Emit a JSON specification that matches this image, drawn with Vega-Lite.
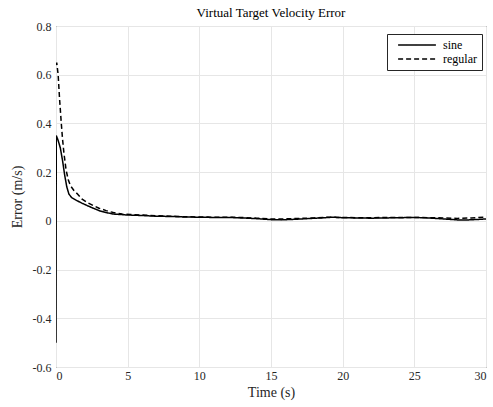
{
  "$schema": "https://vega.github.io/schema/vega-lite/v6.json",
  "width": 430,
  "height": 341,
  "padding": {"left": 10, "top": 7, "right": 6, "bottom": 5},
  "background": "white",
  "title": {"text": "Virtual Target Velocity Error", "font": "Liberation Serif", "fontSize": 13, "fontWeight": "normal", "color": "#000000", "offset": 0},
  "config": {
    "view": {"stroke": "#262626", "strokeWidth": 1},
    "axis": {"labelFont": "Liberation Serif", "titleFont": "Liberation Serif", "labelFontSize": 12, "titleFontSize": 14, "titleFontWeight": "normal", "labelColor": "#262626", "titleColor": "#262626", "gridColor": "#e6e6e6", "gridWidth": 1, "domain": false, "ticks": false}
  },
  "data": {"values": [
    {"t": 0, "e": -0.5, "s": "sine"},
    {"t": 0.02, "e": 0.35, "s": "sine"},
    {"t": 0.15, "e": 0.33, "s": "sine"},
    {"t": 0.3, "e": 0.30, "s": "sine"},
    {"t": 0.45, "e": 0.25, "s": "sine"},
    {"t": 0.6, "e": 0.19, "s": "sine"},
    {"t": 0.75, "e": 0.14, "s": "sine"},
    {"t": 0.9, "e": 0.11, "s": "sine"},
    {"t": 1.1, "e": 0.095, "s": "sine"},
    {"t": 1.4, "e": 0.085, "s": "sine"},
    {"t": 1.8, "e": 0.073, "s": "sine"},
    {"t": 2.2, "e": 0.062, "s": "sine"},
    {"t": 2.6, "e": 0.052, "s": "sine"},
    {"t": 3.0, "e": 0.042, "s": "sine"},
    {"t": 3.5, "e": 0.034, "s": "sine"},
    {"t": 4.0, "e": 0.028, "s": "sine"},
    {"t": 4.5, "e": 0.026, "s": "sine"},
    {"t": 5, "e": 0.024, "s": "sine"},
    {"t": 6, "e": 0.022, "s": "sine"},
    {"t": 7, "e": 0.019, "s": "sine"},
    {"t": 8, "e": 0.018, "s": "sine"},
    {"t": 9, "e": 0.016, "s": "sine"},
    {"t": 10, "e": 0.015, "s": "sine"},
    {"t": 11, "e": 0.014, "s": "sine"},
    {"t": 12, "e": 0.014, "s": "sine"},
    {"t": 13, "e": 0.012, "s": "sine"},
    {"t": 14, "e": 0.009, "s": "sine"},
    {"t": 15, "e": 0.005, "s": "sine"},
    {"t": 15.7, "e": 0.004, "s": "sine"},
    {"t": 16.5, "e": 0.006, "s": "sine"},
    {"t": 17.5, "e": 0.009, "s": "sine"},
    {"t": 18.5, "e": 0.012, "s": "sine"},
    {"t": 19.3, "e": 0.015, "s": "sine"},
    {"t": 20, "e": 0.013, "s": "sine"},
    {"t": 21, "e": 0.012, "s": "sine"},
    {"t": 22, "e": 0.011, "s": "sine"},
    {"t": 23, "e": 0.012, "s": "sine"},
    {"t": 24, "e": 0.013, "s": "sine"},
    {"t": 25, "e": 0.014, "s": "sine"},
    {"t": 26, "e": 0.012, "s": "sine"},
    {"t": 27, "e": 0.008, "s": "sine"},
    {"t": 28, "e": 0.004, "s": "sine"},
    {"t": 28.8, "e": 0.004, "s": "sine"},
    {"t": 29.5, "e": 0.006, "s": "sine"},
    {"t": 30, "e": 0.008, "s": "sine"},
    {"t": 0.02, "e": 0.64, "s": "regular"},
    {"t": 0.05, "e": 0.65, "s": "regular"},
    {"t": 0.15, "e": 0.6, "s": "regular"},
    {"t": 0.25, "e": 0.5, "s": "regular"},
    {"t": 0.37, "e": 0.4, "s": "regular"},
    {"t": 0.45, "e": 0.34, "s": "regular"},
    {"t": 0.55, "e": 0.28, "s": "regular"},
    {"t": 0.7, "e": 0.21, "s": "regular"},
    {"t": 0.85, "e": 0.17, "s": "regular"},
    {"t": 1.0, "e": 0.145, "s": "regular"},
    {"t": 1.25, "e": 0.125, "s": "regular"},
    {"t": 1.5, "e": 0.11, "s": "regular"},
    {"t": 1.8, "e": 0.09, "s": "regular"},
    {"t": 2.2, "e": 0.075, "s": "regular"},
    {"t": 2.6, "e": 0.063, "s": "regular"},
    {"t": 3.0, "e": 0.052, "s": "regular"},
    {"t": 3.5, "e": 0.042, "s": "regular"},
    {"t": 4.0, "e": 0.034, "s": "regular"},
    {"t": 4.6, "e": 0.028, "s": "regular"},
    {"t": 5.2, "e": 0.026, "s": "regular"},
    {"t": 6, "e": 0.024, "s": "regular"},
    {"t": 7, "e": 0.021, "s": "regular"},
    {"t": 8, "e": 0.019, "s": "regular"},
    {"t": 9, "e": 0.017, "s": "regular"},
    {"t": 10, "e": 0.016, "s": "regular"},
    {"t": 11, "e": 0.015, "s": "regular"},
    {"t": 12, "e": 0.015, "s": "regular"},
    {"t": 13, "e": 0.014, "s": "regular"},
    {"t": 14, "e": 0.011, "s": "regular"},
    {"t": 15, "e": 0.008, "s": "regular"},
    {"t": 16, "e": 0.008, "s": "regular"},
    {"t": 17, "e": 0.01, "s": "regular"},
    {"t": 18, "e": 0.012, "s": "regular"},
    {"t": 19, "e": 0.015, "s": "regular"},
    {"t": 20, "e": 0.014, "s": "regular"},
    {"t": 21, "e": 0.013, "s": "regular"},
    {"t": 22, "e": 0.013, "s": "regular"},
    {"t": 23, "e": 0.014, "s": "regular"},
    {"t": 24, "e": 0.014, "s": "regular"},
    {"t": 25, "e": 0.014, "s": "regular"},
    {"t": 26, "e": 0.013, "s": "regular"},
    {"t": 27, "e": 0.012, "s": "regular"},
    {"t": 28, "e": 0.01, "s": "regular"},
    {"t": 29, "e": 0.012, "s": "regular"},
    {"t": 30, "e": 0.015, "s": "regular"}
  ]},
  "mark": {"type": "line", "color": "black", "strokeWidth": 1.5, "clip": true},
  "encoding": {
    "x": {"field": "t", "type": "quantitative", "scale": {"domain": [0, 30], "nice": false}, "axis": {"title": "Time (s)", "labelFont": "Liberation Serif", "titleFont": "Liberation Serif", "values": [0, 5, 10, 15, 20, 25, 30], "labelPadding": 3, "titlePadding": 4}},
    "y": {"field": "e", "type": "quantitative", "scale": {"domain": [-0.6, 0.8], "nice": false, "zero": false}, "axis": {"title": "Error (m/s)", "labelFont": "Liberation Serif", "titleFont": "Liberation Serif", "values": [-0.6, -0.4, -0.2, 0, 0.2, 0.4, 0.6, 0.8], "labelExpr": "datum.value == 0 ? '0' : replace(format(datum.value, '.1f'), '−', '-')", "labelPadding": 5, "titlePadding": 8}},
    "strokeDash": {"field": "s", "type": "nominal", "scale": {"domain": ["sine", "regular"], "range": [[1, 0], [5, 3]]}, "legend": {"title": null, "orient": "none", "legendX": 331, "legendY": 8, "symbolType": "M-5.4,0H5.4", "symbolSize": 49, "symbolStrokeWidth": 1.5, "symbolStrokeColor": "black", "labelFont": "Liberation Serif", "labelFontSize": 12, "labelColor": "#000000", "strokeColor": "#262626", "fillColor": "white", "padding": 5, "rowPadding": 2, "symbolOffset": 19, "labelOffset": 20}},
    "order": {"field": "t", "type": "quantitative"}
  }
}
